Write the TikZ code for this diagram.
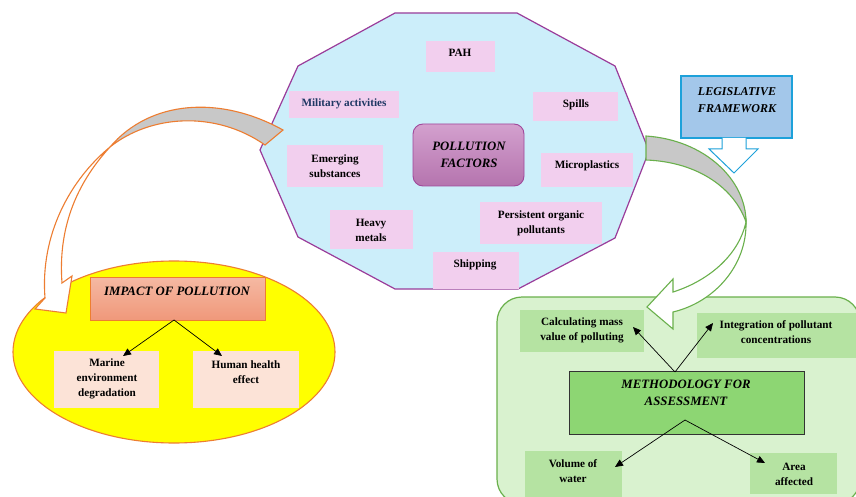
\documentclass[tikz,border=0pt]{standalone}
\usepackage{fontspec}
\setmainfont{Liberation Serif}
\usetikzlibrary{arrows.meta}
\definecolor{decfill}{HTML}{CCEEFA}
\definecolor{decline}{HTML}{9A3C9A}
\definecolor{pinkfill}{HTML}{F2CFEE}
\definecolor{pfTop}{HTML}{D3A0CE}
\definecolor{pfBot}{HTML}{B574AE}
\definecolor{pfLine}{HTML}{A0489A}
\definecolor{navy}{HTML}{1F3864}
\definecolor{legFill}{HTML}{A3C7EA}
\definecolor{legLine}{HTML}{1DA1DA}
\definecolor{ellFill}{HTML}{FFFF00}
\definecolor{orangeLine}{HTML}{ED7D31}
\definecolor{impTop}{HTML}{F5B9A3}
\definecolor{impBot}{HTML}{F0987A}
\definecolor{peach}{HTML}{FCE3D7}
\definecolor{bigGreen}{HTML}{D9F2CF}
\definecolor{greenLine}{HTML}{6AB04C}
\definecolor{smallGreen}{HTML}{B5E3A2}
\definecolor{methFill}{HTML}{8DD673}
\definecolor{bandGray}{HTML}{C8C8C8}
\begin{document}
\begin{tikzpicture}[x=1pt,y=-1pt,
  pinkbox/.style={fill=pinkfill,inner sep=0pt},
  peachbox/.style={fill=peach,inner sep=0pt},
  greenbox/.style={fill=smallGreen,inner sep=0pt},
  txt/.style={align=center,inner sep=0pt,font=\fontsize{11.2}{15}\selectfont\bfseries},
  ttl/.style={align=center,inner sep=0pt,font=\fontsize{12.8}{16.5}\selectfont\bfseries\itshape},
  conn/.style={draw=black,line width=0.7pt,-{Triangle[length=8pt,width=7pt]}}
]
\useasboundingbox (0,0) rectangle (856,497);
\clip (0,0) rectangle (856,497);
\fill[white] (0,0) rectangle (856,497);

% ---------- decagon ----------
\filldraw[fill=decfill,draw=decline,line width=1.2pt,line join=miter]
  (395,13) -- (517,13) -- (615,66) -- (649,151) -- (615,238) -- (518,289)
  -- (395,289) -- (298,237) -- (260,150) -- (298,66) -- cycle;

\node[pinkbox,minimum width=69pt,minimum height=31pt] (pah) at (460.5,56.5) {};
\node[pinkbox,minimum width=110pt,minimum height=27pt] (mil) at (344,104.5) {};
\node[pinkbox,minimum width=85pt,minimum height=29pt] (spi) at (575.5,106.5) {};
\node[pinkbox,minimum width=96pt,minimum height=42pt] (eme) at (335,166) {};
\node[pinkbox,minimum width=92pt,minimum height=34pt] (mic) at (587,170) {};
\node[pinkbox,minimum width=83pt,minimum height=39pt] (hea) at (371.5,229.5) {};
\node[pinkbox,minimum width=122pt,minimum height=42pt] (per) at (541,223) {};
\node[pinkbox,minimum width=86pt,minimum height=37pt] (shi) at (476,270.5) {};
\node[draw=pfLine,line width=0.9pt,rounded corners=10pt,top color=pfTop,bottom color=pfBot,
      minimum width=111pt,minimum height=62pt,inner sep=0pt] (pf) at (468.5,155) {};

\node[txt] (tpah) at (460,53) {PAH};
\node[txt,text=navy] (tmil) at (344,104) {Military activities};
\node[txt] (tspi) at (576,105) {Spills};
\node[txt] (teme) at (335,166) {Emerging\\substances};
\node[txt] (tmic) at (587,166) {Microplastics};
\node[txt] (thea) at (371,230) {Heavy\\metals};
\node[txt] (tper) at (541,223) {Persistent organic\\pollutants};
\node[txt] (tshi) at (475,265) {Shipping};
\node[ttl] (tpf) at (469,155) {POLLUTION\\FACTORS};

% ---------- legislative framework ----------
\node[fill=legFill,draw=legLine,line width=1.2pt,minimum width=111pt,minimum height=62pt,inner sep=0pt] (leg) at (736.5,107) {};
\node[ttl,font=\fontsize{12}{17.5}\selectfont\bfseries\itshape] (tleg) at (737,100) {LEGISLATIVE\\FRAMEWORK};
\filldraw[fill=white,draw=legLine,line width=1pt,line join=miter]
  (722,138) -- (722,149) -- (709,149) -- (734,173) -- (758,149) -- (746,149) -- (746,138);

% ---------- impact ellipse ----------
\filldraw[fill=ellFill,draw=orangeLine,line width=1.1pt] (174,352) ellipse [x radius=161, y radius=91];
\node[draw=orangeLine,line width=0.8pt,top color=impTop,bottom color=impBot,minimum width=175pt,minimum height=43pt,inner sep=0pt] (imp) at (177.5,298.5) {};
\node[ttl] (timp) at (177,291) {IMPACT OF POLLUTION};
\node[peachbox,minimum width=105pt,minimum height=57pt] (mar) at (106.5,379.5) {};
\node[peachbox,minimum width=106pt,minimum height=57pt] (hum) at (246,379.5) {};
\node[txt] (tmar) at (107,379) {Marine\\environment\\degradation};
\node[txt] (thum) at (246,372) {Human health\\effect};
\coordinate (impS) at (174,320);
\coordinate (marT) at (123,356);
\coordinate (humT) at (222,356);
\draw[conn] (impS) -- (marT);
\draw[conn] (impS) -- (humT);

% ---------- methodology area ----------
\filldraw[fill=bigGreen,draw=greenLine,line width=1.2pt,rounded corners=25pt] (497,297) rectangle (860,504);
\node[greenbox,minimum width=124pt,minimum height=42pt] (cal) at (582,331) {};
\node[greenbox,minimum width=163pt,minimum height=45pt] (int) at (778.5,335.5) {};
\node[greenbox,minimum width=97pt,minimum height=49pt] (vol) at (573.5,475.5) {};
\node[greenbox,minimum width=87pt,minimum height=41pt] (are) at (793.5,473.5) {};
\node[fill=methFill,draw=black!80,line width=0.7pt,minimum width=235pt,minimum height=63pt,inner sep=0pt] (met) at (686.5,402.5) {};
\node[txt] (tcal) at (582,330) {Calculating mass\\value of polluting};
\node[txt] (tint) at (776,332) {Integration of pollutant\\concentrations};
\node[ttl] (tmet) at (686,393) {METHODOLOGY FOR\\ASSESSMENT};
\node[txt] (tvol) at (573,471) {Volume of\\water};
\node[txt] (tare) at (794,474) {Area\\affected};
\coordinate (metN) at (675,372);
\coordinate (metS) at (685,420);
\coordinate (calT) at (633,327);
\coordinate (intT) at (713,323);
\coordinate (volT) at (615,467);
\coordinate (areT) at (765,463);
\draw[conn] (metN) -- (calT);
\draw[conn] (metN) -- (intT);
\draw[conn] (metS) -- (volT);
\draw[conn] (metS) -- (areT);

% ---------- orange curved arrow ----------
\filldraw[fill=bandGray,draw=orangeLine,line width=1.1pt,line join=miter]
  (283,130) .. controls (220,95) and (150,100) .. (110,147)
  .. controls (150,115) and (215,110) .. (265,145) -- cycle;
\filldraw[fill=white,draw=orangeLine,line width=1.1pt,line join=miter]
  (110,147) .. controls (70,180) and (40,235) .. (45,298)
  -- (35,309) -- (66,313) -- (72,276) -- (62,283)
  .. controls (58,230) and (75,185) .. (110,147) -- cycle;

% ---------- green curved arrow ----------
\filldraw[fill=bandGray,draw=greenLine,line width=1.1pt,line join=miter]
  (646,136) .. controls (705,140) and (746,180) .. (746,222)
  .. controls (735,190) and (700,162) .. (646,160) -- cycle;
\filldraw[fill=white,draw=greenLine,line width=1.1pt,line join=miter]
  (746,222) .. controls (747,265) and (715,302) .. (673,312)
  -- (673,329) -- (647,307) -- (673,279) -- (673,292)
  .. controls (705,282) and (738,258) .. (746,222) -- cycle;
\end{tikzpicture}
\end{document}
